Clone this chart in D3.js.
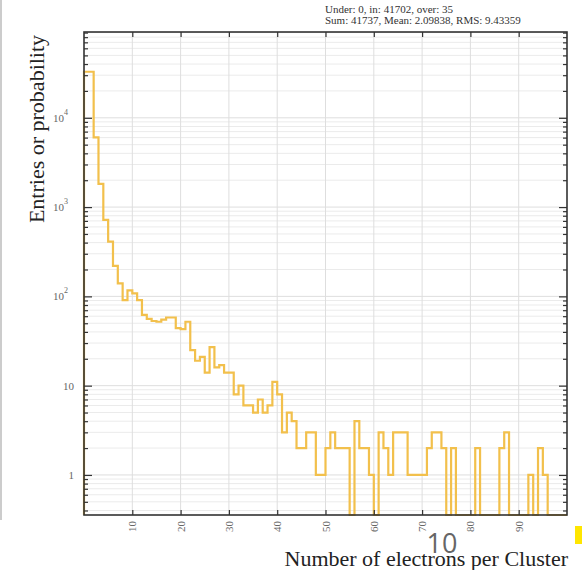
<!DOCTYPE html>
<html>
<head>
<meta charset="utf-8">
<script src="https://cdn.jsdelivr.net/npm/d3@7"></script>
<style>
  body { margin: 0; background: #fff; }
  svg { display: block; }
  .grid line { stroke: #ebebeb; stroke-width: 1; }
  .grid line.major { stroke: #dedede; }
  .axis path { display: none; }
  .axis line { stroke: #333; stroke-width: 1.2; }
</style>
</head>
<body>
<div id="chart"></div>
<script>
// bin counts, unit bins starting at 0
var counts = [32800, 32800, 6050, 1815, 718, 410, 220, 140, 91, 117,
  108, 91, 62, 56, 53, 52, 55, 58, 58, 44,
  43, 52, 25, 19, 21, 14, 27, 16, 17, 14,
  14, 8, 10, 6, 6, 5, 7, 5, 6, 11,
  8, 3, 5, 4, 2, 2, 3, 3, 1, 1,
  2, 3, 2, 2, 2, 0, 4, 2, 2, 1,
  0, 3, 2, 1, 3, 3, 3, 1, 1, 1,
  1, 2, 3, 3, 2, 0, 2, 0, 0, 0,
  0, 2, 0, 0, 0, 0, 2, 3, 0, 0,
  0, 0, 1, 0, 2, 1, 0, 0, 0, 0];

var xTicks = [10, 20, 30, 40, 50, 60, 70, 80, 90];
var yDecades = [1, 10, 100, 1000, 10000];
var yLabels = [{b: "1", e: ""}, {b: "10", e: ""}, {b: "10", e: "2"}, {b: "10", e: "3"}, {b: "10", e: "4"}];
var statsLines = ["Under: 0, in: 41702, over: 35", "Sum: 41737, Mean: 2.09838, RMS: 9.43359"];

var W = 582, H = 570;
var frame = {left: 84, right: 567, top: 32, bottom: 515};

var svg = d3.select("#chart").append("svg")
  .attr("width", W)
  .attr("height", H);

var x = d3.scaleLinear().domain([0, 100]).range([frame.left, frame.right]);
var yMin = 0.356, yMax = 91400;
var y = d3.scaleLog().domain([yMin, yMax]).range([frame.bottom, frame.top]);

// all log grid values inside the domain
var minorVals = [], majorVals = [];
for (var p = -1; p <= 4; p++) {
  for (var k = 1; k <= 9; k++) {
    var v = k * Math.pow(10, p);
    if (v < yMin || v > yMax) continue;
    if (k === 1) majorVals.push(v); else minorVals.push(v);
  }
}

// grid
var grid = svg.append("g").attr("class", "grid");
grid.selectAll("line.h")
  .data(minorVals.concat(majorVals))
  .enter().append("line")
    .attr("class", function (d) { return majorVals.indexOf(d) >= 0 ? "h major" : "h"; })
    .attr("x1", frame.left).attr("x2", frame.right)
    .attr("y1", function (d) { return y(d); })
    .attr("y2", function (d) { return y(d); });
grid.selectAll("line.v")
  .data(xTicks)
  .enter().append("line")
    .attr("class", "v major")
    .attr("y1", frame.top).attr("y2", frame.bottom)
    .attr("x1", function (d) { return x(d); })
    .attr("x2", function (d) { return x(d); });

// histogram outline
var pts = [[0, yMin]];
counts.forEach(function (c, i) { pts.push([i, Math.max(c, yMin)]); });
pts.push([counts.length, Math.max(counts[counts.length - 1], yMin)]);

var line = d3.line()
  .x(function (d) { return x(d[0]); })
  .y(function (d) { return y(d[1]); })
  .curve(d3.curveStepAfter);

svg.append("path")
  .datum(pts)
  .attr("fill", "none")
  .attr("stroke", "#f2c04c")
  .attr("stroke-width", 2.2)
  .attr("d", line);

// axes (ticks pointing inside the frame)
svg.append("g").attr("class", "axis")
  .attr("transform", "translate(" + frame.left + ",0)")
  .call(d3.axisLeft(y).tickValues(majorVals).tickSize(-8).tickFormat(""));
svg.append("g").attr("class", "axis")
  .attr("transform", "translate(" + frame.left + ",0)")
  .call(d3.axisLeft(y).tickValues(minorVals).tickSize(-4).tickFormat(""));
svg.append("g").attr("class", "axis")
  .attr("transform", "translate(" + frame.right + ",0)")
  .call(d3.axisRight(y).tickValues(majorVals).tickSize(-8).tickFormat(""));
svg.append("g").attr("class", "axis")
  .attr("transform", "translate(" + frame.right + ",0)")
  .call(d3.axisRight(y).tickValues(minorVals).tickSize(-4).tickFormat(""));
svg.append("g").attr("class", "axis")
  .attr("transform", "translate(0," + frame.bottom + ")")
  .call(d3.axisBottom(x).tickValues(xTicks).tickSize(-5).tickFormat(""));
svg.append("g").attr("class", "axis")
  .attr("transform", "translate(0," + frame.top + ")")
  .call(d3.axisTop(x).tickValues(xTicks).tickSize(-5).tickFormat(""));

// frame
svg.append("rect")
  .attr("x", frame.left).attr("y", frame.top)
  .attr("width", frame.right - frame.left)
  .attr("height", frame.bottom - frame.top)
  .attr("fill", "none")
  .attr("stroke", "#333")
  .attr("stroke-width", 1.6);

// y tick labels
var yl = svg.append("g")
  .attr("font-family", "Liberation Serif, serif")
  .attr("font-size", 11)
  .attr("fill", "#666");
yDecades.forEach(function (d, i) {
  var t = yl.append("text")
    .attr("x", i < 2 ? 74 : 68)
    .attr("y", y(d) + 4)
    .attr("text-anchor", "end");
  t.append("tspan").text(yLabels[i].b);
  if (yLabels[i].e) {
    t.append("tspan").attr("dy", -7).attr("font-size", 8).text(yLabels[i].e);
  }
});

// x tick labels, vertical
svg.append("g")
  .attr("font-family", "Liberation Serif, serif")
  .attr("font-size", 11)
  .attr("fill", "#666")
  .selectAll("text")
  .data(xTicks)
  .enter().append("text")
    .attr("transform", function (d) { return "translate(" + (x(d) + 4) + ",521) rotate(-90)"; })
    .attr("text-anchor", "end")
    .text(function (d) { return d; });

// axis titles
svg.append("text")
  .attr("transform", "translate(44,129) rotate(-90)")
  .attr("text-anchor", "middle")
  .attr("font-family", "Liberation Serif, serif")
  .attr("font-size", 22)
  .attr("fill", "#222")
  .text("Entries or probability");

svg.append("text")
  .attr("x", 568).attr("y", 566)
  .attr("text-anchor", "end")
  .attr("font-family", "Liberation Serif, serif")
  .attr("font-size", 22)
  .attr("fill", "#222")
  .text("Number of electrons per Cluster");

// stats box text
svg.append("g")
  .attr("font-family", "Liberation Serif, serif")
  .attr("font-size", 11)
  .attr("fill", "#333")
  .selectAll("text")
  .data(statsLines)
  .enter().append("text")
    .attr("x", 325)
    .attr("y", function (d, i) { return 13 + i * 11; })
    .text(function (d) { return d; });

// slide page number and decoration
svg.append("text")
  .attr("x", 442).attr("y", 553)
  .attr("text-anchor", "middle")
  .attr("font-family", "Open Sans, sans-serif")
  .attr("font-size", 27)
  .attr("fill", "#666")
  .text("10");

svg.append("rect")
  .attr("x", 575).attr("y", 526)
  .attr("width", 7).attr("height", 18)
  .attr("fill", "#ffe600");

svg.append("line")
  .attr("x1", 1).attr("x2", 1)
  .attr("y1", 0).attr("y2", 520)
  .attr("stroke", "#bbb")
  .attr("stroke-width", 1.5);
</script>
</body>
</html>
